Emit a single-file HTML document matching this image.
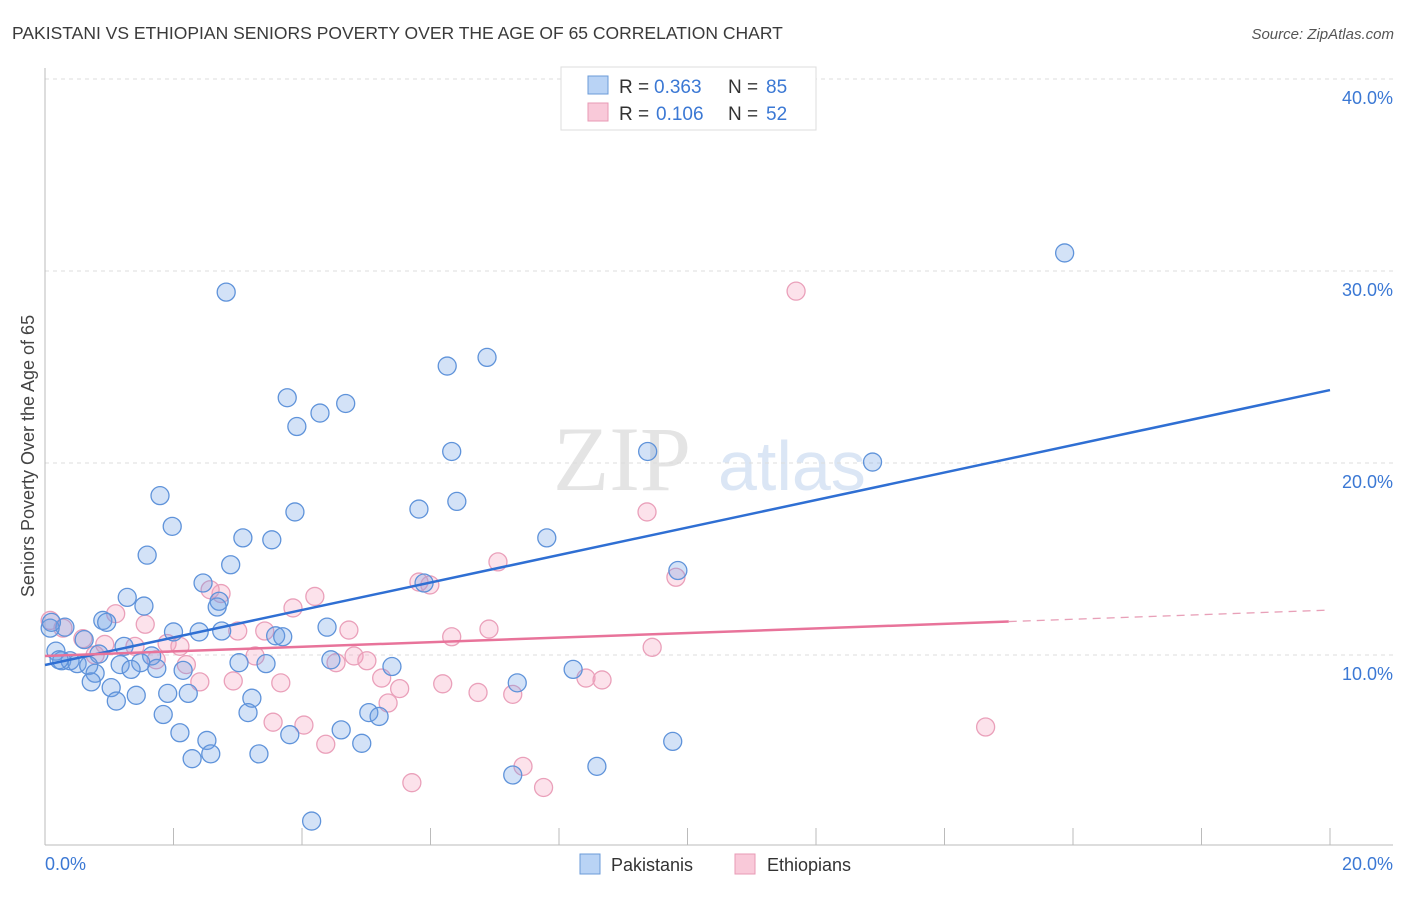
<!DOCTYPE html>
<html><head><meta charset="utf-8"><style>
body{margin:0;background:#fff;font-family:"Liberation Sans",sans-serif}
</style></head><body>
<svg id="chart" width="1406" height="892" xmlns="http://www.w3.org/2000/svg" style="font-family:'Liberation Sans',sans-serif">
<text x="12" y="39" font-size="17.5" fill="#3a3a3a">PAKISTANI VS ETHIOPIAN SENIORS POVERTY OVER THE AGE OF 65 CORRELATION CHART</text>
<text x="1394" y="39" font-size="15" fill="#555" font-style="italic" text-anchor="end">Source: ZipAtlas.com</text>
<text x="553" y="490" font-size="92" fill="#e4e4e4" font-family="Liberation Serif">ZIP</text>
<text x="718" y="490" font-size="70" fill="#dbe6f5">atlas</text>
<g id="grid"></g><g id="marks"></g><g id="lines"></g>
<text transform="translate(34,456) rotate(-90)" font-size="18" fill="#444" text-anchor="middle">Seniors Poverty Over the Age of 65</text>
<g>
<rect x="561" y="67" width="255" height="63" fill="#fff" stroke="#ddd"/>
<rect x="588" y="76" width="20" height="18" fill="#b9d3f5" stroke="#6b9bd8"/>
<rect x="588" y="103" width="20" height="18" fill="#f9c9d9" stroke="#e89ab5"/>
<text x="619" y="93" font-size="19" fill="#333">R =</text>
<text x="654" y="93" font-size="19" fill="#3b78d4">0.363</text>
<text x="728" y="93" font-size="19" fill="#333">N =</text>
<text x="766" y="93" font-size="19" fill="#3b78d4">85</text>
<text x="619" y="120" font-size="19" fill="#333">R =</text>
<text x="656" y="120" font-size="19" fill="#3b78d4">0.106</text>
<text x="728" y="120" font-size="19" fill="#333">N =</text>
<text x="766" y="120" font-size="19" fill="#3b78d4">52</text>
</g>
<g>
<rect x="580" y="854" width="20" height="20" fill="#b9d3f5" stroke="#6b9bd8"/>
<text x="611" y="871" font-size="18" fill="#333">Pakistanis</text>
<rect x="735" y="854" width="20" height="20" fill="#f9c9d9" stroke="#e89ab5"/>
<text x="767" y="871" font-size="18" fill="#333">Ethiopians</text>
</g>
</svg>
<script>
const yTicks=[10,20,30,40];
const yTickLabels=["10.0%","20.0%","30.0%","40.0%"];
const xTickLabels=["0.0%","20.0%"];
const blueX=[15.87,2.82,6.88,6.26,3.77,4.68,4.28,3.92,6.33,9.38,12.88,1.79,6.41,5.82,3.89,1.98,3.08,3.53,7.81,1.59,2.89,9.85,2.46,5.9,1.28,2.71,1.54,2.68,0.9,0.96,0.31,0.08,4.39,2.0,2.4,2.75,3.59,3.70,0.61,1.23,0.17,1.66,0.84,4.45,0.26,0.39,0.5,0.68,1.17,1.49,3.02,3.44,1.34,1.74,2.15,5.4,8.22,0.78,0.72,7.35,1.03,1.91,2.23,1.42,1.11,3.22,1.84,3.16,5.04,5.2,4.61,2.1,3.81,4.93,9.77,2.52,2.58,3.33,2.29,8.59,7.28,4.15,0.1,0.22];
const blueY=[30.94,28.9,25.5,25.05,23.4,23.1,22.6,21.9,20.6,20.6,20.05,18.3,18.0,17.6,17.45,16.7,16.1,16.0,16.1,15.2,14.7,14.4,13.75,13.75,13.0,12.8,12.55,12.5,11.8,11.7,11.45,11.4,11.45,11.2,11.2,11.25,11.0,10.95,10.8,10.45,10.2,9.95,10.05,9.75,9.7,9.7,9.55,9.45,9.5,9.6,9.6,9.55,9.25,9.3,9.2,9.4,9.25,9.05,8.6,8.55,8.3,8.0,8.0,7.9,7.6,7.75,6.9,7.0,7.0,6.8,6.1,5.95,5.85,5.4,5.5,5.55,4.85,4.85,4.6,4.2,3.75,1.35,11.7,9.75];
const pinkX=[11.69,9.37,7.05,9.82,5.82,5.99,2.74,2.57,4.2,3.86,1.1,1.56,0.08,0.28,4.73,6.91,3.0,3.42,6.33,0.59,0.93,1.9,2.1,1.4,9.45,0.78,3.27,4.81,5.01,1.73,2.2,4.53,5.24,2.93,2.41,3.67,8.42,8.67,6.19,5.52,6.74,7.28,5.34,3.55,4.03,14.64,4.37,7.44,5.71,7.76];
const pinkY=[28.95,17.45,14.85,14.05,13.8,13.65,13.2,13.4,13.05,12.45,12.15,11.6,11.8,11.4,11.3,11.35,11.25,11.25,10.95,10.85,10.55,10.6,10.45,10.45,10.4,10.0,9.95,9.95,9.7,9.75,9.5,9.6,8.8,8.65,8.6,8.55,8.8,8.7,8.5,8.25,8.05,7.95,7.5,6.5,6.35,6.25,5.35,4.2,3.35,3.1];
const blueTrend=[9.48,23.8];
const pinkTrend=[9.95,12.34];
const pinkSolidEnd=15;
const NS="http://www.w3.org/2000/svg";
const X=v=>45+v/20*1285, Y=v=>847-v*19.2;
function mk(t,a,p){const e=document.createElementNS(NS,t);for(const k in a)e.setAttribute(k,a[k]);p.appendChild(e);return e;}
const grid=document.getElementById('grid'),marks=document.getElementById('marks'),lines=document.getElementById('lines');
yTicks.forEach((t,i)=>{
 const l=mk('line',{x1:45,x2:1393,y1:Y(t),y2:Y(t),stroke:'#ddd','stroke-dasharray':'4,4'},grid);
 
 
 const tx=mk('text',{x:1393,y:Y(t)+25,'font-size':18,fill:'#3b78d4','text-anchor':'end'},grid);
 tx.textContent=yTickLabels[i];
 
 
});
mk('line',{x1:45,x2:45,y1:68,y2:845,stroke:'#bbb'},grid);
mk('line',{x1:45,x2:1393,y1:845,y2:845,stroke:'#bbb'},grid);
for(let i=0;i<=10;i++){const t=mk('line',{x1:X(i*2),x2:X(i*2),y1:828,y2:845,stroke:'#bbb'},grid);
 
 }
[[0,'start',45],[20,'end',1393]].forEach((d,i)=>{const t=mk('text',{x:d[2],y:870,'font-size':18,fill:'#3b78d4','text-anchor':d[1]},grid);t.textContent=xTickLabels[i];
 
 });
function pts(xs,ys,fill,stroke,name){xs.forEach((x,i)=>{const c=mk('circle',{cx:X(x),cy:Y(ys[i]),r:9,fill:fill,stroke:stroke,'stroke-width':1.3},marks);
 
 });}
pts(pinkX,pinkY,'rgba(244,160,190,0.3)','#eaa0ba','ethiopian-point');
pts(blueX,blueY,'rgba(110,160,230,0.3)','#5f93da','pakistani-point');
const bl=mk('line',{x1:X(0),y1:Y(blueTrend[0]),x2:X(20),y2:Y(blueTrend[1]),stroke:'#2f6fd3','stroke-width':2.5},lines);


const py=x=>pinkTrend[0]+(pinkTrend[1]-pinkTrend[0])*x/20;
const pl=mk('line',{x1:X(0),y1:Y(py(0)),x2:X(pinkSolidEnd),y2:Y(py(pinkSolidEnd)),stroke:'#e8739a','stroke-width':2.5},lines);


const pd=mk('line',{x1:X(pinkSolidEnd),y1:Y(py(pinkSolidEnd)),x2:X(20),y2:Y(py(20)),stroke:'#e8a0b8','stroke-width':1.3,'stroke-dasharray':'8,6'},lines);


</script>
</body></html>
